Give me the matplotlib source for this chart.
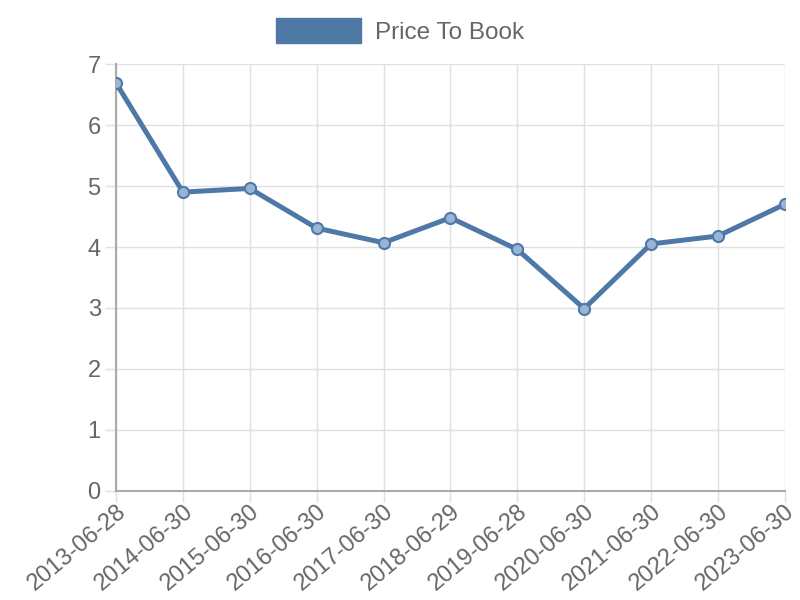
import matplotlib
matplotlib.use("Agg")
import matplotlib.pyplot as plt
from matplotlib.patches import Patch

dates = ["2013-06-28", "2014-06-30", "2015-06-30", "2016-06-30", "2017-06-30",
         "2018-06-29", "2019-06-28", "2020-06-30", "2021-06-30", "2022-06-30", "2023-06-30"]
price_to_book = [6.69, 4.90, 4.96, 4.31, 4.07, 4.48, 3.96, 2.99, 4.05, 4.18, 4.70]

plt.rcParams['font.family'] = ['Liberation Sans', 'DejaVu Sans']
color = "#4e79a7"
txt = "#666666"

fig = plt.figure(figsize=(8, 6), dpi=100)
ax = fig.add_axes([0.145, 0.1817, 0.836, 0.7116])
x = list(range(len(dates)))
ax.plot(x, price_to_book, color=color, linewidth=3.6, zorder=3)
ax.plot(x, price_to_book, linestyle="none", marker="o", markersize=8,
        markerfacecolor=(0.60, 0.71, 0.84), markeredgecolor=color, markeredgewidth=1.5, zorder=4)

ax.set_xlim(0, len(dates) - 1)
ax.set_ylim(0, 7)
ax.set_yticks(range(8))
ax.set_xticks(x)
ax.set_xticklabels(dates, rotation=40, ha="right", va="top", rotation_mode="anchor")
ax.grid(True, color="#e0e0e0", linewidth=1)
ax.set_axisbelow(True)
for s in ["top", "right"]:
    ax.spines[s].set_visible(False)
for s in ["left", "bottom"]:
    ax.spines[s].set_color("#aaaaaa")
    ax.spines[s].set_linewidth(1.5)
ax.tick_params(axis="both", colors="#e0e0e0", labelcolor=txt, labelsize=17, length=8, width=1)
ax.tick_params(axis="y", pad=3)
ax.tick_params(axis="x", pad=-1)

handles = [Patch(facecolor=color, edgecolor=color, label="Price To Book")]
fig.legend(handles=handles, loc="upper center", bbox_to_anchor=(0.5, 1.006), frameon=False,
           fontsize=17.5, handlelength=3.5, handleheight=1.2, labelcolor=txt, handletextpad=0.55)

fig.savefig("out.png", dpi=100)
